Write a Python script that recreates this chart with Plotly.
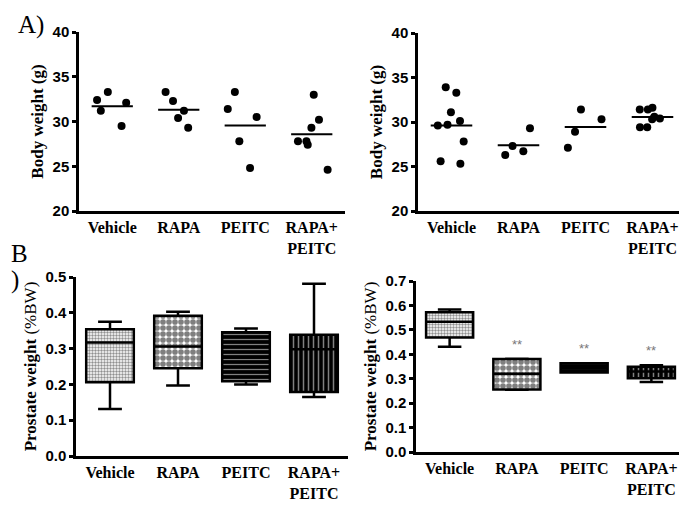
import plotly.graph_objects as go

groups = ["Vehicle", "RAPA", "PEITC", "RAPA+<br>PEITC"]

# A) body weight, left panel (one list per group)
bw_left = [
    [33.3, 32.1, 32.4, 31.2, 29.5],
    [33.3, 32.3, 31.2, 30.4, 29.3],
    [33.3, 31.4, 30.5, 27.8, 24.8],
    [33.0, 30.2, 29.3, 27.8, 27.4, 27.8, 24.6],
]
# A) body weight, right panel
bw_right = [
    [33.9, 33.3, 31.1, 30.1, 29.7, 29.6, 27.8, 25.3, 25.6],
    [29.3, 27.3, 26.3, 26.7],
    [31.4, 30.3, 28.9, 27.1],
    [31.4, 31.6, 31.4, 30.3, 30.6, 30.4, 29.4, 29.4],
]

# B) prostate weight box stats: min, q1, median, q3, max
pw_left_min = [0.131, 0.197, 0.200, 0.165]
pw_left_q1 = [0.206, 0.245, 0.209, 0.179]
pw_left_med = [0.317, 0.306, 0.275, 0.298]
pw_left_q3 = [0.354, 0.392, 0.346, 0.339]
pw_left_max = [0.375, 0.403, 0.356, 0.481]

pw_right_min = [0.431, 0.255, 0.325, 0.287]
pw_right_q1 = [0.469, 0.256, 0.325, 0.302]
pw_right_med = [0.533, 0.320, 0.343, 0.330]
pw_right_q3 = [0.572, 0.381, 0.363, 0.349]
pw_right_max = [0.583, 0.382, 0.363, 0.355]
stars = ["", "**", "**", "**"]

patterns = [
    dict(shape=".", fgcolor="#222222", bgcolor="white", size=3, solidity=0.5),
    dict(shape=".", fgcolor="black", bgcolor="white", size=6, solidity=0.7),
    dict(shape="-", fgcolor="white", bgcolor="black", size=5, solidity=0.25),
    dict(shape="|", fgcolor="white", bgcolor="black", size=5, solidity=0.3),
]

serif = "Liberation Serif"
sans = "Liberation Sans"

fig = go.Figure()


def add_dots(data, xa, ya):
    xs, ys, means = [], [], []
    for g, vals in zip(groups, data):
        xs += [g] * len(vals)
        ys += vals
        means.append(sum(vals) / len(vals))
    fig.add_trace(go.Box(
        x=xs, y=ys, boxpoints="all", jitter=0.9, pointpos=0,
        marker=dict(color="black", size=8),
        line=dict(color="rgba(0,0,0,0)", width=0),
        fillcolor="rgba(0,0,0,0)", width=0.6,
        xaxis=xa, yaxis=ya, showlegend=False, hoverinfo="y",
    ))
    fig.add_trace(go.Box(
        x=groups, q1=means, median=means, q3=means,
        lowerfence=means, upperfence=means,
        line=dict(color="black", width=2), fillcolor="rgba(0,0,0,0)",
        width=0.62, xaxis=xa, yaxis=ya, showlegend=False,
    ))


def add_boxes(mn, q1, med, q3, mx, xa, ya):
    for i, g in enumerate(groups):
        fig.add_trace(go.Bar(
            x=[g], y=[q3[i] - q1[i]], base=[q1[i]], width=0.7,
            marker=dict(color="white", pattern=patterns[i], line=dict(width=0)),
            xaxis=xa, yaxis=ya, showlegend=False,
        ))
    fig.add_trace(go.Box(
        x=groups, q1=q1, median=med, q3=q3, lowerfence=mn, upperfence=mx,
        line=dict(color="black", width=2.5), fillcolor="rgba(0,0,0,0)",
        width=0.7, whiskerwidth=0.5, xaxis=xa, yaxis=ya, showlegend=False,
    ))


add_dots(bw_left, "x", "y")
add_dots(bw_right, "x2", "y2")
add_boxes(pw_left_min, pw_left_q1, pw_left_med, pw_left_q3, pw_left_max, "x3", "y3")
add_boxes(pw_right_min, pw_right_q1, pw_right_med, pw_right_q3, pw_right_max, "x4", "y4")

for g, s, top in zip(groups, stars, pw_right_max):
    if s:
        fig.add_annotation(x=g, y=top + 0.06, xref="x4", yref="y4", text=s,
                           showarrow=False, font=dict(family=sans, size=13, color="#777777"))

# the page shows the figure 8px lower than its own top edge
OFF = 8
W, H = 687, 505 - OFF


def px(v):
    return v / W


def py(v):
    return 1 - (v - OFF) / H


doms = {
    "": ([71, 337], [32, 211]),
    "2": ([410, 678], [33, 211]),
    "3": ([68, 340], [277, 456]),
    "4": ([408, 677], [281, 452]),
}
ranges = {"": [20, 40], "2": [20, 40], "3": [0, 0.5], "4": [0, 0.7]}
dticks = {"": 5, "2": 5, "3": 0.1, "4": 0.1}
ytitles = {
    "": "<b>Body weight (g)</b>",
    "2": "<b>Body weight (g)</b>",
    "3": "<b>Prostate weight</b> (%BW)",
    "4": "<b>Prostate weight</b> (%BW)",
}

layout = {}
for k, (xd, yd) in doms.items():
    layout["xaxis" + k] = dict(
        domain=[px(xd[0]), px(xd[1])], anchor="y" + k, automargin=False,
        type="category", categoryorder="array", categoryarray=groups,
        range=[-0.5, 3.5], showline=True, linecolor="black", linewidth=2.5,
        ticks="", showgrid=False, zeroline=False, fixedrange=True,
        tickfont=dict(family=serif, size=16, color="black", weight="bold"),
    )
    layout["yaxis" + k] = dict(
        domain=[py(yd[1]), py(yd[0])], anchor="x" + k, automargin=False,
        range=ranges[k], dtick=dticks[k], tick0=0,
        showline=True, linecolor="black", linewidth=2.5,
        ticks="outside", ticklen=4, tickwidth=2.5, tickcolor="black",
        showgrid=False, zeroline=False,
        tickformat=".1f" if k in ("3", "4") else "d",
        tickfont=dict(family=sans, size=15, color="black", weight="bold"),
        title=dict(text=ytitles[k], standoff=5,
                   font=dict(family=serif, size=17, color="black")),
    )

fig.update_layout(
    **layout,
    width=W, height=H,
    margin=dict(l=0, r=0, t=0, b=0),
    paper_bgcolor="white", plot_bgcolor="white",
    barmode="overlay", boxmode="overlay", bargap=0,
    annotations=list(fig.layout.annotations) + [
        dict(text="A)", x=px(8), y=py(9), xref="paper", yref="paper",
             xanchor="left", yanchor="top", showarrow=False,
             font=dict(family=serif, size=25, color="black")),
        dict(text="B", x=px(1), y=py(238), xref="paper", yref="paper",
             xanchor="left", yanchor="top", showarrow=False,
             font=dict(family=serif, size=25, color="black")),
        dict(text=")", x=px(1), y=py(264), xref="paper", yref="paper",
             xanchor="left", yanchor="top", showarrow=False,
             font=dict(family=serif, size=25, color="black")),
    ],
)

fig.write_html("out.html")
